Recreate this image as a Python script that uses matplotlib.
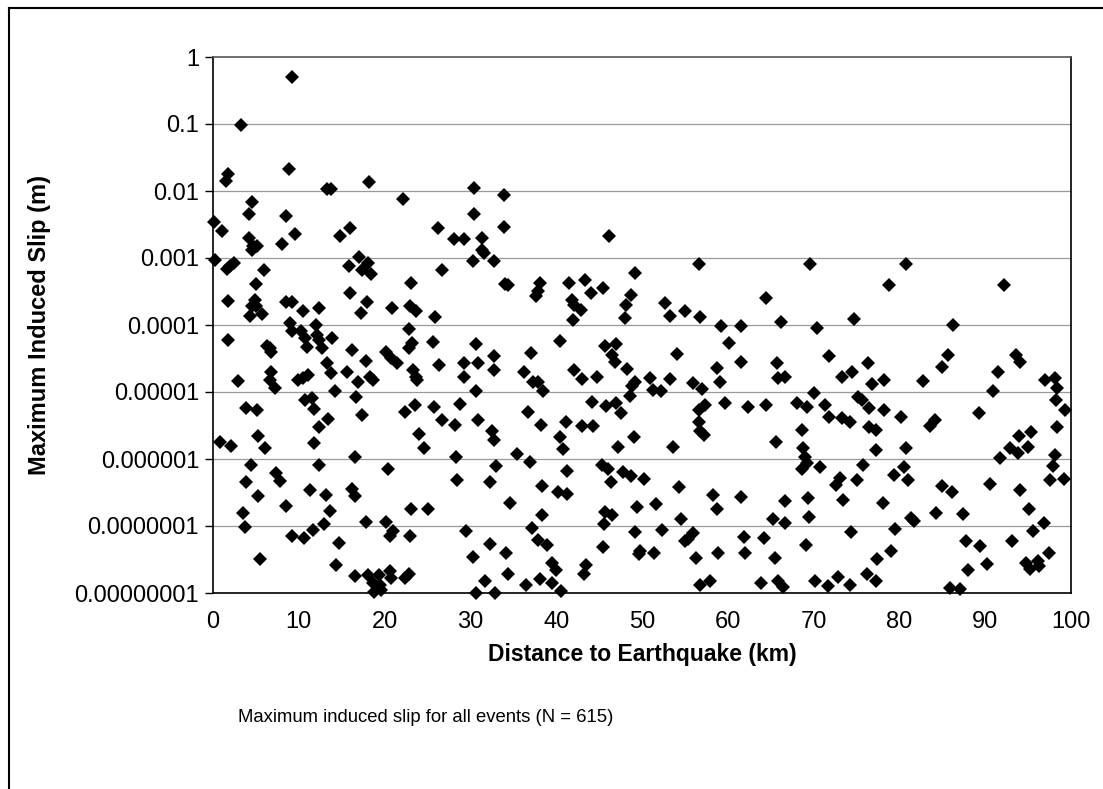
import matplotlib
matplotlib.use("Agg")
import matplotlib.pyplot as plt
from matplotlib.lines import Line2D
from matplotlib.ticker import FixedLocator, FixedFormatter, NullLocator

plt.rcParams['font.family'] = ['Liberation Sans', 'DejaVu Sans']

# ---- data: (distance km, max induced slip m) ----
near_pts = [
    (9.2,0.5),(3.3,0.095),(1.8,0.018),(1.5,0.014),(8.8,0.021),(13.25,0.0107),(13.8,0.0107),(18.2,0.0138),
    (22.1,0.0076),(30.4,0.011),(33.9,0.0087),(0.1,0.0035),(1.0,0.0025),(4.5,0.0068),(4.2,0.0046),(8.5,0.0043),
    (9.6,0.0023),(4.2,0.002),(4.7,0.0015),(5.1,0.0015),(4.5,0.0013),(8.0,0.0016),(14.8,0.0021),(16.0,0.0028),
    (26.2,0.0028),(28.1,0.0019),(29.3,0.0019),(30.4,0.0046),(31.3,0.002),(33.9,0.0029),(31.3,0.0013),(31.6,0.0012),
    (30.3,0.00091),(32.7,0.00091),(0.2,0.00093),(1.6,0.00068),(2.0,0.00076),(2.5,0.00085),(5.9,0.00066),(5.0,0.00041),
    (15.8,0.00077),(17.0,0.00105),(17.4,0.00066),(18.1,0.00083),(18.4,0.00057),(23.1,0.00043),(26.7,0.00066),(34.0,0.00041),
    (1.8,0.00023),(4.9,0.00024),(4.5,0.00019),(5.0,0.00019),(4.3,0.000135),(5.7,0.000145),(8.5,0.00022),(9.2,0.00022),
    (10.5,0.00016),(12.4,0.00018),(16.0,0.0003),(17.9,0.00022),(17.3,0.00015),(20.9,0.00018),(23.0,0.00019),(23.7,0.00016),
    (25.9,0.00013),
    (9.0,0.000107),(9.2,8e-5),(10.3,8e-5),(10.7,6.3e-5),(10.9,4.7e-5),(12.0,1e-4),(12.1,7.1e-5),(12.3,6e-5),(12.7,4.5e-5),
    (13.9,6.3e-5),(1.7,6e-5),(6.3,4.9e-5),(6.6,4.5e-5),(6.8,4e-5),(16.2,4.3e-5),(17.8,2.9e-5),(20.2,3.9e-5),(20.8,3.2e-5),
    (21.4,2.7e-5),(22.9,8.7e-5),(22.8,4.5e-5),(23.2,5.4e-5),(25.6,5.5e-5),(30.7,5.2e-5),(32.8,3.5e-5),(26.3,2.5e-5),
    (29.2,2.7e-5),(30.9,2.7e-5),(29.3,1.7e-5),(32.8,2.1e-5),(13.3,2.7e-5),(13.7,1.95e-5),(15.6,2.0e-5),(16.9,1.4e-5),
    (18.3,1.7e-5),(18.6,1.5e-5),(23.3,2.1e-5),(23.7,1.7e-5),(23.8,1.5e-5),(2.95,1.45e-5),(6.8,2e-5),(6.6,1.5e-5),
    (7.2,1.15e-5),(9.9,1.5e-5),(10.5,1.6e-5),(11.1,1.8e-5),(14.2,1.03e-5),(16.7,8.3e-6),(30.7,1.03e-5),(10.7,7.6e-6),
    (11.5,8e-6),(11.8,5.5e-6),(3.9,5.7e-6),(5.1,5.4e-6),(13.4,4e-6),(12.3,3e-6),(17.4,4.5e-6),(22.4,5e-6),(23.5,6.5e-6),
    (25.8,5.9e-6),(26.7,3.8e-6),(28.2,3.2e-6),(28.8,6.6e-6),(30.9,3.8e-6),(32.5,2.6e-6),(32.7,1.9e-6),(0.8,1.8e-6),
    (2.1,1.55e-6),(5.3,2.2e-6),(6.1,1.45e-6),(11.8,1.75e-6),(24.0,2.4e-6),(24.6,1.45e-6),(16.5,1.07e-6),(28.3,1.07e-6),
    (4.4,8.1e-7),(12.3,8.1e-7),(20.4,7e-7),(33.0,7.9e-7),(3.8,4.6e-7),(7.4,6.1e-7),(7.8,4.7e-7),(11.3,3.5e-7),
    (13.2,2.95e-7),(16.2,3.6e-7),(16.5,2.8e-7),(28.4,4.9e-7),(32.3,4.5e-7),(5.3,2.8e-7),(8.5,2e-7),(13.6,1.7e-7),
    (3.5,1.55e-7),(3.7,9.5e-8),(23.1,1.8e-7),(25.1,1.8e-7),(34.6,2.2e-7),(17.8,1.15e-7),(20.2,1.15e-7),(12.9,1.07e-7),
    (11.7,8.7e-8),(9.2,7.1e-8),(10.6,6.6e-8),(21.0,8.3e-8),(20.6,7.1e-8),(23.0,7.1e-8),(14.7,5.6e-8),(29.5,8.5e-8),
    (32.3,5.4e-8),(34.2,4e-8),(5.5,3.2e-8),(14.3,2.6e-8),(30.3,3.5e-8),(16.6,1.8e-8),(18.1,1.85e-8),(19.3,1.85e-8),
    (18.7,1.4e-8),(19.5,1.3e-8),(18.8,1.05e-8),(19.6,1.1e-8),(20.6,2.1e-8),(20.8,1.65e-8),(22.4,1.65e-8),(22.9,1.95e-8),
    (31.7,1.5e-8),(30.7,1.0e-8),(32.9,1.0e-8),(34.4,1.95e-8),
]
mid_pts = [
    (46.1,0.0021),(56.6,0.00081),(69.6,0.00081),(34.4,0.0004),(38.1,0.00043),(37.6,0.00027),(37.9,0.00032),
    (41.5,0.00042),(43.3,0.00047),(41.8,0.00024),(42.1,0.0002),(42.9,0.00017),(44.1,0.0003),(45.5,0.00036),
    (49.2,0.00059),(48.7,0.00028),(48.1,0.0002),(48.0,0.000126),(42.0,0.000118),(52.7,0.00021),(53.3,0.000138),
    (55.0,0.00016),(56.8,0.000132),(59.2,0.000098),(61.5,0.000098),(64.5,0.00025),(66.2,0.00011),
    (40.5,5.8e-5),(37.1,3.8e-5),(36.3,2.0e-5),(37.3,1.4e-5),(37.9,1.4e-5),(38.5,1.03e-5),(42.1,2.1e-5),(43.0,1.55e-5),
    (44.7,1.7e-5),(45.7,4.9e-5),(47.0,5.2e-5),(46.5,3.6e-5),(46.9,2.8e-5),(48.2,2.2e-5),(49.2,1.4e-5),(48.8,1.23e-5),
    (48.6,8.7e-6),(50.9,1.6e-5),(51.3,1.07e-5),(52.2,1.02e-5),(53.3,1.55e-5),(54.1,3.7e-5),(55.9,1.35e-5),(57.0,1.1e-5),
    (58.7,2.3e-5),(60.1,5.4e-5),(61.5,2.8e-5),(59.1,1.4e-5),(65.7,2.7e-5),(65.9,1.6e-5),(66.7,1.7e-5),(36.7,5.1e-6),
    (38.2,3.2e-6),(41.1,3.6e-6),(40.5,2.1e-6),(40.8,1.4e-6),(43.0,3.1e-6),(44.3,3.1e-6),(44.2,7.2e-6),(45.8,6.2e-6),
    (47.0,6.8e-6),(47.6,4.9e-6),(49.1,2.1e-6),(47.2,1.5e-6),(53.6,1.5e-6),(56.7,5.4e-6),(57.3,6.4e-6),(56.7,3.6e-6),
    (56.8,2.6e-6),(57.2,2.3e-6),(59.7,6.9e-6),(62.3,6e-6),(64.5,6.4e-6),(68.1,6.8e-6),(69.2,6e-6),(68.6,2.7e-6),
    (65.6,1.8e-6),(68.8,1.45e-6),(69.0,1.07e-6),(68.6,7.2e-7),(69.2,8.7e-7),(35.4,1.2e-6),(36.9,9.1e-7),(41.3,6.7e-7),
    (45.3,8.1e-7),(46.0,7e-7),(46.4,4.6e-7),(47.8,6.5e-7),(48.7,5.6e-7),(50.2,5e-7),(38.4,4e-7),(40.2,3.2e-7),
    (41.3,3e-7),(54.3,3.8e-7),(58.3,2.9e-7),(61.5,2.75e-7),(66.7,2.4e-7),(58.7,1.8e-7),(49.4,1.9e-7),(51.6,2.1e-7),
    (38.3,1.45e-7),(45.7,1.6e-7),(46.5,1.45e-7),(45.6,1.07e-7),(54.6,1.26e-7),(65.3,1.26e-7),(66.7,1.1e-7),
    (37.2,9.3e-8),(49.2,8.1e-8),(52.3,8.7e-8),(55.9,7.8e-8),(55.4,6.3e-8),(55.0,5.9e-8),(61.9,6.8e-8),(64.2,6.6e-8),
    (69.1,5.2e-8),(37.9,6.2e-8),(38.9,5.2e-8),(45.4,4.9e-8),(49.8,4.2e-8),(49.6,3.8e-8),(51.4,4e-8),(58.9,3.9e-8),
    (62.0,4e-8),(56.3,3.3e-8),(65.5,3.3e-8),(39.5,2.8e-8),(40.0,2.2e-8),(43.5,2.6e-8),(43.2,1.95e-8),(38.1,1.6e-8),
    (39.5,1.4e-8),(36.5,1.3e-8),(40.6,1.07e-8),(56.8,1.3e-8),(57.9,1.5e-8),(63.9,1.4e-8),(65.9,1.5e-8),(66.4,1.25e-8),
]
far_pts = [
    (80.8,0.00081),(78.8,0.00039),(92.2,0.00039),(74.7,0.000123),(70.4,0.000089),(86.2,0.0001),
    (71.8,3.5e-5),(73.3,1.7e-5),(74.5,2.0e-5),(76.3,2.7e-5),(76.8,1.3e-5),(78.2,1.5e-5),(82.8,1.45e-5),(85.7,3.6e-5),
    (85.0,2.4e-5),(91.5,2.0e-5),(93.6,3.6e-5),(94.0,2.8e-5),(90.9,1.05e-5),(97.0,1.5e-5),(98.1,1.6e-5),(98.4,1.15e-5),
    (98.3,7.6e-6),(99.3,5.3e-6),(98.4,3.0e-6),(70.0,9.8e-6),(71.3,6.4e-6),(71.8,4.2e-6),(73.3,4.1e-6),(74.2,3.6e-6),
    (75.2,8.5e-6),(75.6,7.6e-6),(76.4,5.7e-6),(78.2,5.4e-6),(80.2,4.2e-6),(76.4,3e-6),(77.3,2.7e-6),(83.6,3.1e-6),
    (84.2,3.8e-6),(89.3,4.9e-6),(70.8,7.7e-7),(77.3,1.35e-6),(80.8,1.45e-6),(75.7,8e-7),(80.5,7.5e-7),(79.4,5.8e-7),
    (81.0,4.9e-7),(73.1,5.2e-7),(72.6,4.1e-7),(75.1,4.9e-7),(91.7,1.02e-6),(92.9,1.45e-6),(93.8,1.25e-6),(93.9,2.2e-6),
    (95.3,2.5e-6),(95.0,1.5e-6),(98.1,1.15e-6),(97.9,7.9e-7),(97.6,4.8e-7),(99.2,5e-7),(90.6,4.3e-7),(94.0,3.4e-7),
    (85.0,3.9e-7),(86.1,3.2e-7),(69.4,2.6e-7),(73.4,2.45e-7),(78.1,2.2e-7),(69.5,1.38e-7),(81.4,1.3e-7),(81.7,1.2e-7),
    (84.3,1.55e-7),(87.4,1.5e-7),(95.1,1.8e-7),(96.9,1.1e-7),(95.6,8.5e-8),(74.4,8.1e-8),(79.5,8.9e-8),(87.8,6e-8),
    (89.4,5e-8),(93.1,6e-8),(79.0,4.2e-8),(77.4,3.2e-8),(97.4,3.9e-8),(88.0,2.2e-8),(90.2,2.7e-8),(94.8,2.8e-8),
    (96.2,3e-8),(95.2,2.3e-8),(96.3,2.5e-8),(76.2,1.9e-8),(77.3,1.5e-8),(72.8,1.75e-8),(70.2,1.5e-8),(71.7,1.26e-8),
    (74.3,1.3e-8),(85.9,1.17e-8),(87.1,1.13e-8),
]
x_ticks = [0, 10, 20, 30, 40, 50, 60, 70, 80, 90, 100]
y_ticks = [1e-8, 1e-7, 1e-6, 1e-5, 1e-4, 1e-3, 1e-2, 1e-1, 1]
y_tick_labels = ["0.00000001", "0.0000001", "0.000001", "0.00001", "0.0001",
                 "0.001", "0.01", "0.1", "1"]
x_label = "Distance to Earthquake (km)"
y_label = "Maximum Induced Slip (m)"
caption = "Maximum induced slip for all events (N = 615)"

all_pts = near_pts + mid_pts + far_pts
dist = [p[0] for p in all_pts]
slip = [p[1] for p in all_pts]

W, H = 1103, 789
fig = plt.figure(figsize=(W / 100, H / 100), dpi=100)
fig.patch.set_facecolor("white")
ax = fig.add_axes([213 / W, 1 - 593 / H, (1071 - 213) / W, (593 - 57) / H])

ax.set_yscale("log")
ax.set_xlim(0, 100)
ax.set_ylim(1e-8, 1)
for yv in y_ticks[1:-1]:
    ax.axhline(yv, color="#999999", lw=0.9, zorder=1)

ax.plot(dist, slip, linestyle="none", marker="D", markersize=7,
        color="black", markeredgewidth=0, zorder=3, clip_on=False)

ax.xaxis.set_major_locator(FixedLocator(x_ticks))
ax.yaxis.set_major_locator(FixedLocator(y_ticks))
ax.yaxis.set_major_formatter(FixedFormatter(y_tick_labels))
ax.yaxis.set_minor_locator(NullLocator())
ax.tick_params(axis="y", direction="out", length=6, width=1, labelsize=17, pad=4)
ax.tick_params(axis="x", direction="out", length=0, width=1, labelsize=17, pad=13)

for s in ax.spines.values():
    s.set_color("black")
    s.set_linewidth(1.2)
ax.spines["top"].set_color("#555555")

fig.text(642 / W, 1 - 655 / H, x_label, fontsize=16.5, fontweight="bold",
         ha="center", va="center")
fig.text(40 / W, 1 - 325 / H, y_label, fontsize=17, fontweight="bold",
         ha="center", va="center", rotation=90)

fig.text(238 / W, 1 - 717 / H, caption, fontsize=13.3, ha="left", va="center")

# outer frame (top and left edges)
fig.add_artist(Line2D([9 / W, 1.0], [1 - 8 / H, 1 - 8 / H], transform=fig.transFigure,
                      color="black", lw=1.5))
fig.add_artist(Line2D([9 / W, 9 / W], [1 - 8 / H, 0.0], transform=fig.transFigure,
                      color="black", lw=1.5))

fig.savefig("out.png", dpi=100, facecolor="white")
